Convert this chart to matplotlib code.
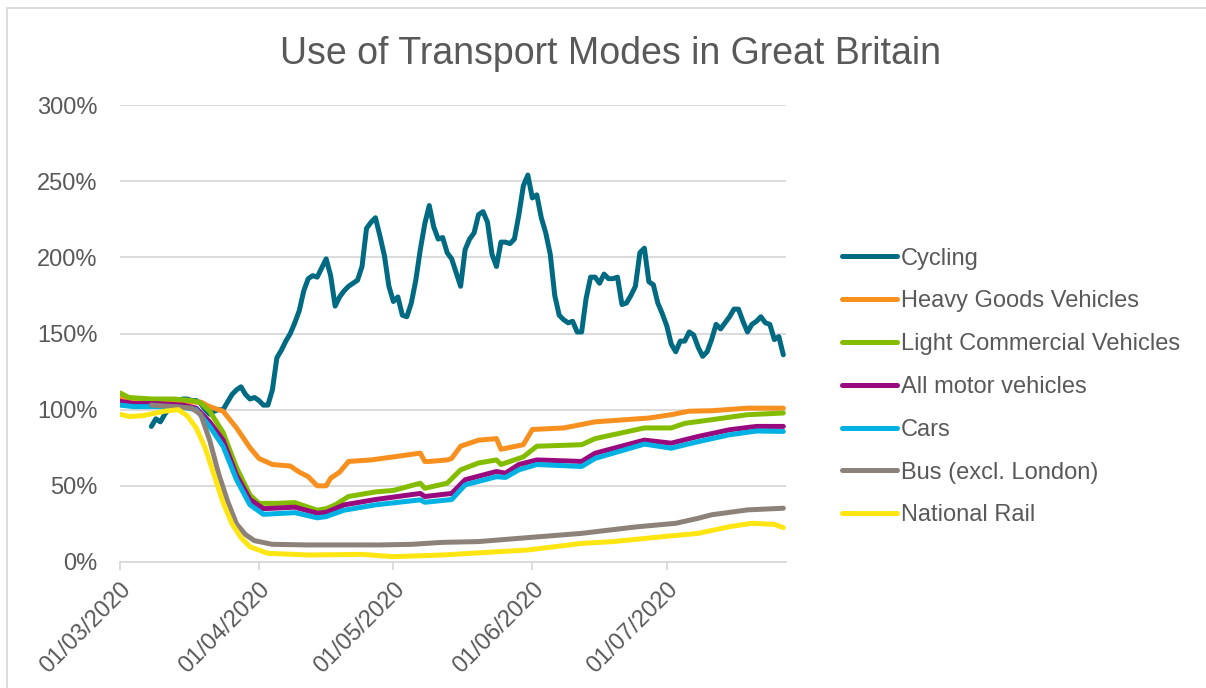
import pandas as pd
import matplotlib.pyplot as plt
import matplotlib.dates as mdates
from matplotlib.patches import Rectangle
from matplotlib.ticker import FuncFormatter

plt.rcParams['font.family'] = ['Liberation Sans', 'DejaVu Sans']
text_col = '#595959'
grid_col = '#D9D9D9'

# data: index vs. pre-lockdown baseline (%), day offsets from 01/03/2020
start = pd.Timestamp('2020-03-01')

cycling_days = list(range(7, 149))
cycling = [89, 94, 92, 97, 101, 104, 106, 107, 107, 106, 106, 104, 100, 97, 99, 100, 100,
           105, 110, 113, 115, 110, 107, 108, 106, 103, 103, 113, 134, 139, 145, 150, 157,
           165, 178, 186, 188, 187, 193, 199, 188, 168, 174, 178, 181, 183, 185, 194, 219,
           223, 226, 214, 201, 181, 171, 174, 162, 161, 170, 185, 205, 222, 234, 220, 212,
           213, 203, 199, 190, 181, 205, 212, 216, 228, 230, 223, 202, 194, 210, 210, 209,
           212, 228, 247, 254, 239, 241, 226, 216, 202, 175, 162, 159, 157, 158, 151, 151,
           173, 187, 187, 183, 189, 186, 186, 187, 169, 170, 175, 181, 203, 206, 184, 182,
           170, 163, 155, 143, 138, 145, 145, 151, 149, 141, 135, 138, 146, 156, 153, 157,
           161, 166, 166, 158, 151, 156, 158, 161, 157, 156, 146, 148, 136]

hgv_days = [0, 2, 6, 12, 16, 18, 20, 23, 26, 29, 31, 34, 38, 40, 42, 44, 46, 47, 49, 51,
            56, 61, 67, 68, 69, 73, 74, 76, 80, 84, 85, 90, 92, 99, 106, 118, 123, 127,
            132, 140, 148]
hgv = [108, 106, 105, 105, 105, 105, 102, 99, 88, 75, 68, 64, 63, 59, 56, 50, 50, 55, 59,
       66, 67, 69, 71.5, 66, 66, 67, 68, 76, 80, 81, 74, 77, 87, 88, 92, 94.5, 96.7, 99,
       99.3, 101, 101]

lcv_days = [0, 2, 7, 12, 16, 18, 20, 23, 26, 29, 31, 35, 39, 42, 44, 46, 48, 51, 57, 61,
            67, 68, 73, 76, 80, 84, 85, 90, 93, 103, 106, 117, 123, 126, 132, 140, 148]
lcv = [111, 108, 107, 107, 106, 104.5, 99, 85, 62, 44, 38.5, 38.5, 39, 36, 34, 35, 37.5,
       43, 46, 47, 51.7, 48.4, 51.7, 60.5, 65, 67, 64, 69, 76, 77, 81, 88, 88, 91, 93.4,
       96.7, 97.8]

motor_days = [0, 3, 8, 14, 17, 20, 23, 26, 29, 32, 39, 44, 46, 50, 57, 67, 68, 74, 77,
              84, 86, 89, 93, 103, 106, 117, 123, 129, 136, 142, 148]
motor = [105.5, 104, 104, 103, 101, 92, 80, 57, 41, 35, 36, 32, 32.6, 37.5, 41, 45, 43,
         45, 54, 59.4, 58.3, 64, 67, 66, 71.4, 80, 78, 82.4, 86.8, 89, 89]

cars_days = motor_days
cars = [103, 102, 102, 101.5, 100, 89, 76, 54, 37.5, 31.3, 32.4, 29, 29.8, 34, 37.5, 40.8,
        39.2, 41, 50.6, 56, 55.5, 60.5, 64, 62.7, 68, 77.4, 74.7, 79, 83.5, 86, 85.7]

bus_days = [7, 12, 16, 18, 20, 22, 24, 26, 28, 30, 34, 42, 58, 65, 72, 80, 91, 103, 115,
            124, 129, 132, 140, 148]
bus = [103, 102, 101, 97, 80, 58, 40, 25, 18, 14, 11.6, 11.2, 11.2, 11.6, 12.9, 13.4, 16,
       18.8, 23, 25.4, 28.7, 31, 34.2, 35.3]

rail_days = [0, 2, 5, 10, 13, 15, 17, 19, 21, 23, 25, 27, 29, 33, 42, 54, 61, 72, 91, 103,
             110, 121, 129, 136, 141, 146, 148]
rail = [97, 95.5, 96, 99, 100, 96, 88, 75, 57, 39, 25, 16, 10, 5.7, 4.6, 5, 3.5, 4.6, 7.9,
        12.2, 13.4, 16.6, 18.8, 23.2, 25.4, 24.7, 22.6]

series = [
    ('Cycling', cycling_days, cycling, '#006A82'),
    ('Heavy Goods Vehicles', hgv_days, hgv, '#F7901E'),
    ('Light Commercial Vehicles', lcv_days, lcv, '#84BD00'),
    ('All motor vehicles', motor_days, motor, '#990A7F'),
    ('Cars', cars_days, cars, '#00B2E3'),
    ('Bus (excl. London)', bus_days, bus, '#8C8279'),
    ('National Rail', rail_days, rail, '#FFE512'),
]


def to_dates(days):
    return start + pd.to_timedelta(days, unit='D')


fig = plt.figure(figsize=(12.06, 6.88), dpi=100)
ax = fig.add_axes([120 / 1206, 1 - 562 / 688, 666 / 1206, 457 / 688])

for name, days, vals, col in series:
    ax.plot(to_dates(days), vals, color=col, lw=3.6, label=name,
            solid_capstyle='round', solid_joinstyle='round')

ax.set_ylim(0, 300)
ax.set_xlim(start, start + pd.Timedelta(days=148.6))
ax.set_yticks(range(0, 301, 50))
ax.yaxis.set_major_formatter(FuncFormatter(lambda v, p: f'{v:.0f}%'))
ax.grid(axis='y', color=grid_col, lw=1.3)
ax.set_axisbelow(True)
for s in ['top', 'right', 'left']:
    ax.spines[s].set_visible(False)
ax.spines['bottom'].set_color(grid_col)
ax.spines['bottom'].set_linewidth(1.3)

ax.xaxis.set_major_locator(mdates.MonthLocator())
ax.xaxis.set_major_formatter(mdates.DateFormatter('%d/%m/%Y'))
ax.tick_params(axis='y', length=0, pad=16, labelsize=17, labelcolor=text_col)
ax.tick_params(axis='x', length=6, width=1.3, color=grid_col, pad=6,
               labelsize=17, labelcolor=text_col)
for lbl in ax.get_xticklabels():
    lbl.set_rotation(45)
    lbl.set_ha('right')
    lbl.set_rotation_mode('anchor')

fig.text(0.506, 1 - 54 / 688, 'Use of Transport Modes in Great Britain',
         ha='center', va='center', fontsize=27, color=text_col)

fig.legend(loc='center left', bbox_to_anchor=(830 / 1206, 1 - 387 / 688),
           frameon=False, fontsize=17, labelcolor=text_col, handlelength=2.35,
           handletextpad=0.15, labelspacing=0.88, borderpad=0)

fig.patches.append(Rectangle((7 / 1206, -0.05), 1.2, 1 - 8 / 688 + 0.05,
                             transform=fig.transFigure, fill=False,
                             edgecolor=grid_col, lw=1.3))

fig.savefig('out.png', dpi=100)
